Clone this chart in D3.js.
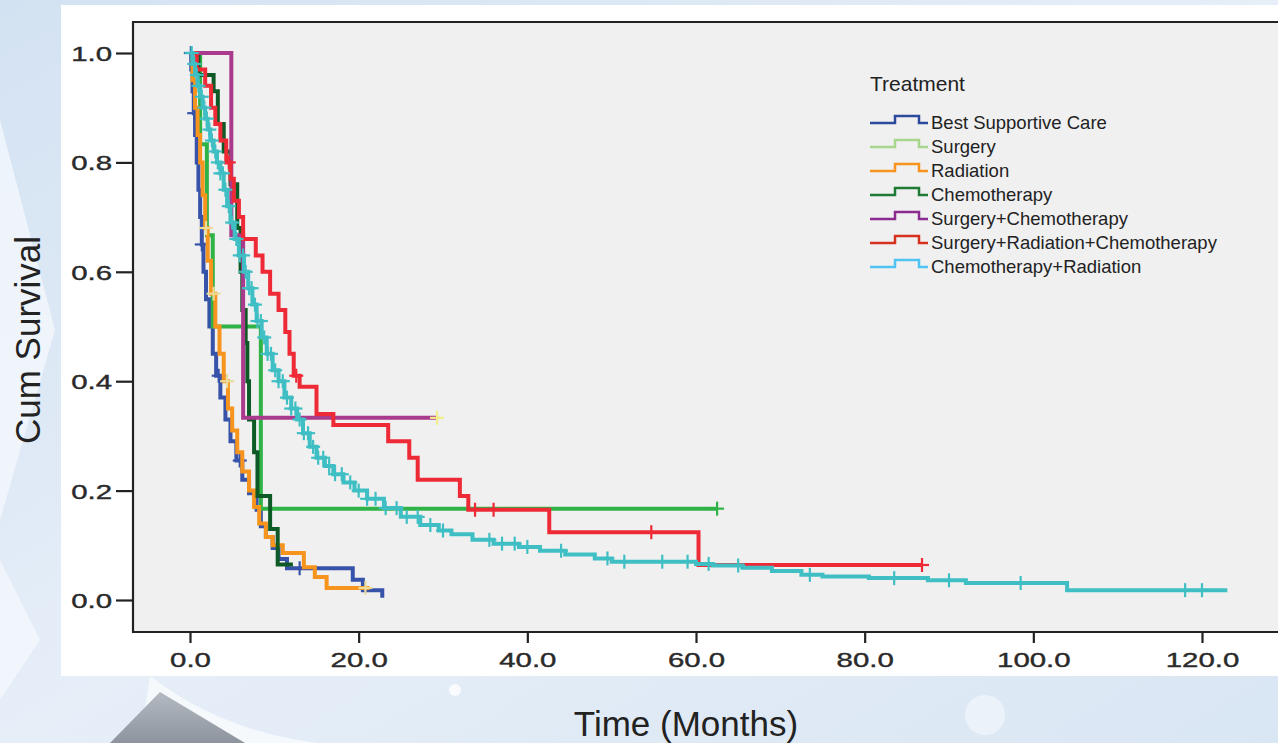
<!DOCTYPE html>
<meta charset="utf-8">
<style>
	body { margin: 0; background: #e3ecf6; }
	svg { display: block; font-family: "Liberation Sans", Arial, sans-serif; }
	.series path { fill: none; stroke-width: 4px; }
	.censor line { stroke-width: 2.2px; }
	.legend text { font-size: 18.5px; fill: #222; }
</style>
<body>
<script src="https://d3js.org/d3.v7.min.js"></script>
<script>

// Kaplan-Meier steps: [time in months, cum survival after that time]
var bscSteps = [[0,1],[0.15,0.97],[0.3,0.93],[0.45,0.89],[0.6,0.85],[0.8,0.8],[1.0,0.75],[1.2,0.7],[1.4,0.65],[1.6,0.6],[1.9,0.55],[2.3,0.5],[2.7,0.45],[3.1,0.41],[3.6,0.37],[4.2,0.33],[4.8,0.29],[5.5,0.255],[6.2,0.22],[7.0,0.195],[7.9,0.165],[8.4,0.135],[9.0,0.115],[9.8,0.095],[10.5,0.075],[11.5,0.058],[19.3,0.037],[20.5,0.018],[22.8,0.004]];
var surgerySteps = [[0,1],[1.2,0.833],[2.0,0.667],[2.7,0.5],[8.4,0.167]];
var radiationSteps = [[0,1],[0.3,0.95],[0.6,0.9],[0.9,0.85],[1.2,0.8],[1.5,0.74],[1.8,0.68],[2.1,0.62],[2.5,0.56],[3.0,0.5],[3.5,0.45],[4.0,0.4],[4.5,0.35],[5.0,0.31],[5.6,0.27],[6.2,0.235],[7.0,0.2],[7.6,0.17],[8.2,0.14],[9.0,0.115],[9.8,0.1],[11.0,0.086],[13.5,0.06],[14.8,0.042],[16.2,0.022]];
var chemoSteps = [[0,1],[1.0,0.96],[2.8,0.93],[3.3,0.87],[4.0,0.82],[4.8,0.76],[5.6,0.68],[6.0,0.6],[6.2,0.53],[6.6,0.47],[6.8,0.4],[7.0,0.33],[7.6,0.27],[8.0,0.19],[9.5,0.13],[10.4,0.065]];
var surgChemoSteps = [[0,1],[4.9,0.667],[6.3,0.333]];
var surgRadChemoSteps = [[0,1],[0.8,0.97],[1.8,0.94],[2.5,0.9],[3.0,0.87],[3.6,0.84],[4.3,0.8],[4.8,0.77],[5.2,0.73],[5.8,0.7],[6.3,0.66],[7.8,0.63],[8.6,0.6],[9.5,0.56],[10.5,0.53],[11.3,0.49],[11.8,0.45],[12.3,0.41],[13.0,0.39],[15.0,0.34],[17.0,0.32],[23.5,0.29],[26.0,0.26],[27.0,0.22],[32.0,0.19],[33.0,0.165],[42.6,0.124],[60.3,0.064]];
var chemoRadSteps = [[0,1],[0.3,0.98],[0.6,0.96],[0.9,0.94],[1.2,0.92],[1.5,0.9],[1.8,0.88],[2.1,0.86],[2.4,0.84],[2.8,0.82],[3.2,0.8],[3.6,0.78],[4.0,0.75],[4.4,0.72],[4.8,0.69],[5.3,0.66],[5.8,0.63],[6.4,0.6],[6.9,0.57],[7.4,0.54],[7.9,0.51],[8.5,0.48],[9.1,0.45],[9.8,0.42],[10.5,0.4],[11.2,0.37],[12.0,0.35],[12.7,0.33],[13.4,0.305],[14.2,0.28],[15.0,0.26],[16.0,0.245],[17.0,0.23],[18.2,0.215],[19.5,0.2],[21.0,0.185],[23.0,0.168],[25.0,0.152],[27.3,0.137],[29.5,0.127],[31.0,0.12],[33.5,0.11],[36.0,0.103],[39.0,0.097],[41.5,0.09],[44.5,0.083],[48.0,0.076],[50.0,0.07],[60.0,0.066],[62.0,0.063],[65.5,0.059],[69.0,0.053],[72.5,0.046],[75.0,0.043],[80.5,0.04],[87.5,0.036],[92.0,0.031],[104.0,0.018]];

// last follow-up time of each group
var endTimes = [22.8, 62.5, 21.3, 12.2, 29.3, 86.8, 123];

// censored times
var bscCensor = [0.1, 0.5, 1.4, 3.4, 5.9, 13.0];
var surgeryCensor = [62.5];
var radiationCensor = [1.9, 2.8, 4.4, 20.8];
var chemoCensor = [];
var surgChemoCensor = [29.3];
var surgRadChemoCensor = [4.6, 12.6, 33.8, 36.0, 54.7, 86.8];
var chemoRadCensor = [0.2, 0.5, 0.8, 1.0, 1.4, 1.7, 2.0, 2.3, 2.6, 3.0, 3.3, 3.6, 3.9, 4.2, 4.6, 5.0, 5.5, 5.9, 6.3, 6.6, 7.0, 7.3, 7.7, 8.0, 8.4, 8.8, 9.2, 9.6, 10.1, 10.5, 11.0, 11.5, 12.0, 12.5, 13.0, 13.5, 14.0, 14.6, 15.2, 15.8, 16.5, 17.2, 18.0, 19.0, 20.0, 21.0, 22.0, 23.2, 24.5, 25.7, 27.0, 28.5, 30.0, 35.5, 37.0, 38.5, 40.0, 44.0, 49.5, 51.5, 56.0, 59.0, 61.5, 65.0, 73.5, 83.5, 90.0, 98.5, 118.0, 120.0];

var treatments = ["Best Supportive Care", "Surgery", "Radiation", "Chemotherapy", "Surgery+Chemotherapy", "Surgery+Radiation+Chemotherapy", "Chemotherapy+Radiation"];
var lineColors = ["#3752a9", "#2fb246", "#f7941d", "#0e5a26", "#aa3a8c", "#ee2a36", "#3fbfc4"];
var legendColors = ["#2c4a9c", "#a8d68c", "#f7941d", "#1f7a36", "#8b2a8f", "#d7301f", "#4fc4f2"];
var censorColors = ["#3752a9", "#2fb246", "#eadc9a", "#0e5a26", "#f3ec8a", "#ee2a36", "#3fbfc4"];

var xTicks = [0, 20, 40, 60, 80, 100, 120];
var yTicks = [0, 0.2, 0.4, 0.6, 0.8, 1.0];

var allSteps = [bscSteps, surgerySteps, radiationSteps, chemoSteps, surgChemoSteps, surgRadChemoSteps, chemoRadSteps];
var allCensor = [bscCensor, surgeryCensor, radiationCensor, chemoCensor, surgChemoCensor, surgRadChemoCensor, chemoRadCensor];

var width = 1278, height = 743;

var svg = d3.select("body").append("svg")
	.attr("width", width)
	.attr("height", height);

// ---- backdrop (light blue slide behind the chart card)
var defs = svg.append("defs");
var bg = defs.append("linearGradient").attr("id", "bg").attr("x1", 0).attr("y1", 0).attr("x2", 1).attr("y2", 1);
bg.append("stop").attr("offset", "0%").attr("stop-color", "#d3e2f2");
bg.append("stop").attr("offset", "50%").attr("stop-color", "#e6eef8");
bg.append("stop").attr("offset", "100%").attr("stop-color", "#d9e6f3");
var tri = defs.append("linearGradient").attr("id", "tri").attr("x1", 0).attr("y1", 0).attr("x2", 0).attr("y2", 1);
tri.append("stop").attr("offset", "0%").attr("stop-color", "#b4bac2");
tri.append("stop").attr("offset", "100%").attr("stop-color", "#8d949d");

svg.append("rect").attr("width", width).attr("height", height).attr("fill", "url(#bg)");
svg.append("path").attr("d", "M0,120 L55,330 L0,520 Z").attr("fill", "#f4f8fc").attr("opacity", 0.8);
svg.append("path").attr("d", "M0,560 L40,640 L0,700 Z").attr("fill", "#f7fafd").attr("opacity", 0.7);
svg.append("path").attr("d", "M150,676 Q260,760 420,743 L140,743 Z").attr("fill", "#f6f9fc").attr("opacity", 0.9);
svg.append("path").attr("d", "M110,743 L160,692 L245,743 Z").attr("fill", "url(#tri)");
svg.append("circle").attr("cx", 455).attr("cy", 690).attr("r", 6).attr("fill", "#ffffff").attr("opacity", 0.8);
svg.append("circle").attr("cx", 985).attr("cy", 715).attr("r", 20).attr("fill", "#ffffff").attr("opacity", 0.45);

// white chart card
svg.append("rect").attr("x", 61).attr("y", 5).attr("width", width - 61).attr("height", 671).attr("fill", "#ffffff");

var x = d3.scaleLinear().domain([0, 120]).range([190, 1202]);
var y = d3.scaleLinear().domain([0, 1]).range([600, 53]);

var plotLeft = 133, plotTop = 22, plotRight = 1278, plotBottom = 632;

svg.append("rect")
	.attr("x", plotLeft).attr("y", plotTop)
	.attr("width", plotRight - plotLeft).attr("height", plotBottom - plotTop)
	.attr("fill", "#f0f0f0");

// frame lines
svg.append("path")
	.attr("d", "M" + plotRight + "," + plotTop + "H" + plotLeft + "V" + plotBottom + "H" + plotRight)
	.attr("fill", "none").attr("stroke", "#222").attr("stroke-width", 2.2);

// axes
var xAxis = svg.append("g")
	.attr("transform", "translate(0," + plotBottom + ")")
	.call(d3.axisBottom(x).tickValues(xTicks).tickFormat(d3.format(".1f")).tickSize(11).tickPadding(6));
var yAxis = svg.append("g")
	.attr("transform", "translate(" + plotLeft + ",0)")
	.call(d3.axisLeft(y).tickValues(yTicks).tickFormat(d3.format(".1f")).tickSize(17).tickPadding(5));

[xAxis, yAxis].forEach(function(a) {
	a.select(".domain").remove();
	a.selectAll(".tick line").attr("stroke", "#222").attr("stroke-width", 2.2);
	a.selectAll(".tick text")
		.attr("fill", "#2a2a2a")
		.attr("stroke", "#2a2a2a")
		.attr("stroke-width", 0.4)
		.style("font-size", "21px")
		.style("font-family", "'Liberation Sans', Arial, sans-serif");
});
// the tick numbers are drawn wide in the original
xAxis.selectAll(".tick text")
	.attr("dy", "0.85em")
	.attr("transform", "scale(1.4,1)")
	.attr("x", 0);
yAxis.selectAll(".tick text")
	.attr("transform", "translate(-21,0) scale(1.4,1)")
	.attr("x", 0).attr("dy", "0.36em");

// clip to the plot
defs.append("clipPath").attr("id", "plotclip").append("rect")
	.attr("x", plotLeft + 1).attr("y", plotTop + 1)
	.attr("width", plotRight - plotLeft).attr("height", plotBottom - plotTop - 2);

var line = d3.line()
	.x(function(d) { return x(d[0]); })
	.y(function(d) { return y(d[1]); })
	.curve(d3.curveStepAfter);

function survAt(steps, t) {
	var i = d3.bisector(function(d) { return d[0]; }).right(steps, t) - 1;
	return steps[Math.max(i, 0)][1];
}

var plot = svg.append("g").attr("clip-path", "url(#plotclip)");

allSteps.forEach(function(steps, i) {
	var pts = steps.concat([[endTimes[i], steps[steps.length - 1][1]]]);
	var g = plot.append("g").attr("class", "series");
	g.append("path")
		.attr("d", line(pts))
		.attr("stroke", lineColors[i])
		.attr("stroke-width", i == 6 ? 4.5 : 4)
		.attr("stroke-linejoin", "miter");

	var c = g.append("g").attr("class", "censor")
		.selectAll("g")
		.data(allCensor[i])
		.enter().append("g")
		.attr("transform", function(t) { return "translate(" + x(t) + "," + y(survAt(steps, t)) + ")"; });
	c.append("line").attr("x1", 0).attr("x2", 0).attr("y1", -7).attr("y2", 7).attr("stroke", censorColors[i]);
	c.append("line").attr("x1", -7).attr("x2", 7).attr("y1", 0).attr("y2", 0).attr("stroke", censorColors[i]);
});

// legend
var legend = svg.append("g").attr("class", "legend").attr("transform", "translate(870,0)");
legend.append("text").attr("x", 0).attr("y", 91).style("font-size", "21px").text("Treatment");

var item = legend.selectAll("g.item")
	.data(treatments)
	.enter().append("g")
	.attr("class", "item")
	.attr("transform", function(d, i) { return "translate(0," + (123 + i * 24) + ")"; });
item.append("path")
	.attr("d", "M0,0H25V-7H49V0H58")
	.attr("fill", "none")
	.attr("stroke-width", 2.5)
	.attr("stroke", function(d, i) { return legendColors[i]; });
item.append("text")
	.attr("x", 61).attr("y", 6)
	.text(function(d) { return d; });

// axis titles
svg.append("text")
	.attr("transform", "translate(40,340) rotate(-90)")
	.attr("text-anchor", "middle")
	.style("font-size", "35px")
	.attr("fill", "#222")
	.text("Cum Survival");

svg.append("text")
	.attr("x", 686).attr("y", 736)
	.attr("text-anchor", "middle")
	.style("font-size", "35px")
	.attr("fill", "#222")
	.text("Time (Months)");

</script>
</body>
</html>
